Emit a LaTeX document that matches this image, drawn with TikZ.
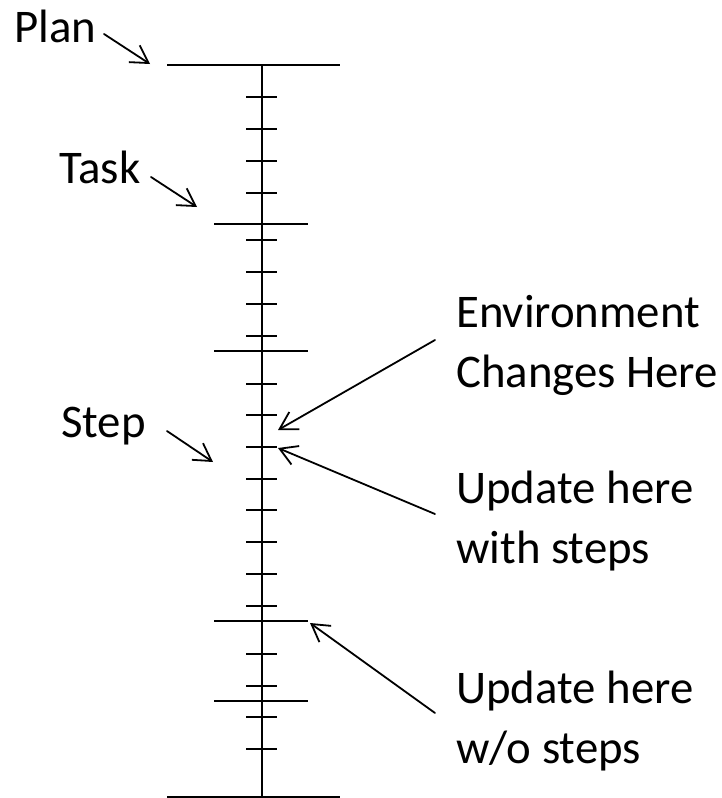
\documentclass[tikz,border=0pt]{standalone}
\usepackage{fontspec}
\setmainfont{Carlito}
\usetikzlibrary{arrows.meta}

\tikzset{
  rule/.style={line width=2pt},
  label/.style={anchor=base west, inner sep=0pt, font=\fontsize{46.8}{60}\selectfont},
  pointer/.style={line width=1.8pt, line cap=round, line join=round,
    -{Straight Barb[length=17pt, width=20pt, line width=1.8pt]}},
}

\begin{document}
\begin{tikzpicture}[x=1pt, y=-1pt]
  \useasboundingbox (0,0) rectangle (722,798);

  % timeline spine
  \coordinate (top) at (262,65);
  \coordinate (bottom) at (262,797);
  \draw[rule] (top) -- (bottom);

  % plan boundaries
  \draw[rule] (167,65) -- (340,65);
  \draw[rule] (167,797) -- (340,797);

  % task boundaries
  \foreach \y in {224,351,621,701}
    \draw[rule] (214,\y) -- (308,\y);

  % step ticks
  \foreach \y in {97,129,161,193,240,272,304,336,384,415,447,479,510,542,574,606,654,686,717,749}
    \draw[rule] (246,\y) -- (277,\y);

  % labels (multi-line nodes sit on the baseline of their last line)
  \node[label] (plan) at (14,42) {Plan};
  \node[label] (task) at (59,183) {Task};
  \node[label] (step) at (61,437) {Step};
  \node[label, align=left] (env) at (456,387) {Environment\\Changes Here};
  \node[label, align=left] (upd) at (456,563) {Update here\\with steps};
  \node[label, align=left] (updno) at (456,763) {Update here\\w/o steps};

  % arrow ends
  \coordinate (planA) at (104,34);   \coordinate (planB) at (150,64);
  \coordinate (taskA) at (151,177);  \coordinate (taskB) at (197,207);
  \coordinate (stepA) at (167,431);  \coordinate (stepB) at (213,462);
  \coordinate (envA) at (435,340);   \coordinate (envB) at (278,430);
  \coordinate (updA) at (435,514);   \coordinate (updB) at (278,448);
  \coordinate (updnoA) at (435,713); \coordinate (updnoB) at (310,623);

  \draw[pointer] (planA) -- (planB);
  \draw[pointer] (taskA) -- (taskB);
  \draw[pointer] (stepA) -- (stepB);
  \draw[pointer] (envA) -- (envB);
  \draw[pointer] (updA) -- (updB);
  \draw[pointer] (updnoA) -- (updnoB);
\end{tikzpicture}
\end{document}
